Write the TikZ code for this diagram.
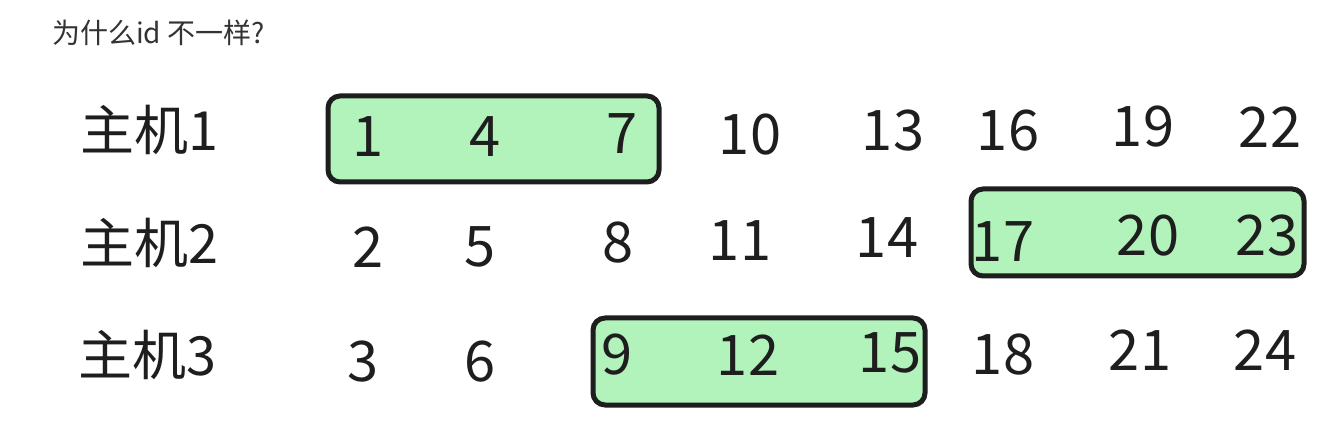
\documentclass[tikz,border=0pt]{standalone}
\usepackage{fontspec}
\newfontfamily\cjk{Noto Sans CJK SC}
\definecolor{boxgreen}{HTML}{B2F2BB}
\definecolor{titlegray}{HTML}{333333}
\definecolor{ink}{HTML}{1E1E1E}
\begin{document}
\begin{tikzpicture}[x=1pt,y=-1pt,
  title/.style={anchor=west,inner sep=0pt,text=titlegray,font=\cjk\fontsize{28}{30}\selectfont},
  hostlabel/.style={anchor=west,inner sep=0pt,text=ink,font=\cjk\fontsize{54}{58}\selectfont},
  num/.style={inner sep=0pt,text=ink,font=\cjk\fontsize{56}{60}\selectfont},
  grpbox/.style={draw=ink,line width=5pt,fill=boxgreen,rounded corners=12pt}]
\useasboundingbox (0,0) rectangle (1333,427);
\fill[white] (0,0) rectangle (1333,427);
\node[title] (t) at (52,33) {为什么id 不一样?};
% group boxes
\draw[grpbox] (328,96) rectangle (659,182);
\draw[grpbox] (971,189) rectangle (1304,276);
\draw[grpbox] (593,318) rectangle (925,405);
% host labels
\node[hostlabel] (h1) at (80,130) {主机1};
\node[hostlabel] (h2) at (80,243) {主机2};
\node[hostlabel] (h3) at (78,355) {主机3};
% row 1
\node[num] (n1) at (368,137) {1};
\node[num] (n4) at (485,137) {4};
\node[num] (n7) at (622,134) {7};
\node[num] (n10) at (750,135) {10};
\node[num] (n13) at (893,131) {13};
\node[num] (n16) at (1008,131) {16};
\node[num] (n19) at (1143,127) {19};
\node[num] (n22) at (1270,127) {22};
% row 2
\node[num] (n2) at (368,247) {2};
\node[num] (n5) at (480,247) {5};
\node[num] (n8) at (618,243) {8};
\node[num] (n11) at (740,241) {11};
\node[num] (n14) at (887,238) {14};
\node[num] (n17) at (1003,242) {17};
\node[num] (n20) at (1148,236) {20};
\node[num] (n23) at (1267,236) {23};
% row 3
\node[num] (n3) at (363,362) {3};
\node[num] (n6) at (480,362) {6};
\node[num] (n9) at (617,355) {9};
\node[num] (n12) at (748,355) {12};
\node[num] (n15) at (890,353) {15};
\node[num] (n18) at (1003,355) {18};
\node[num] (n21) at (1140,350) {21};
\node[num] (n24) at (1265,350) {24};
\end{tikzpicture}
\end{document}
